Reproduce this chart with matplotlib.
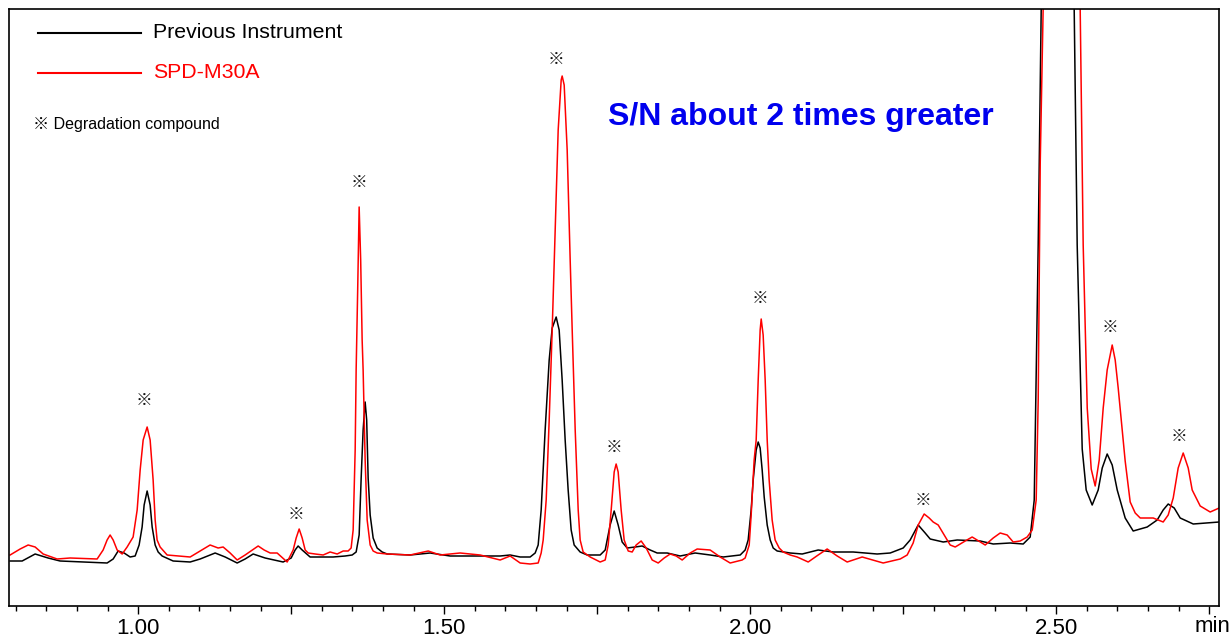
import matplotlib
matplotlib.use('Agg')
import matplotlib.pyplot as plt
import numpy as np

plt.rcParams['font.family'] = ['Liberation Sans', 'Noto Sans CJK JP', 'DejaVu Sans']

# previous instrument (black trace), time [min] / signal
t_prev = [0.7908, 0.8105, 0.8317, 0.8529, 0.8725, 0.9101, 0.9493, 0.9592, 0.9673, 0.9771,
          0.9869, 0.9951, 1.0016, 1.0065, 1.0098, 1.0147, 1.0196, 1.0229, 1.0278, 1.0327,
          1.0392, 1.0572, 1.0850, 1.1013, 1.1258, 1.1422, 1.1618, 1.1748, 1.1879, 1.2075,
          1.2369, 1.2500, 1.2565, 1.2614, 1.2680, 1.2810, 1.3186, 1.3382, 1.3497, 1.3562,
          1.3611, 1.3644, 1.3676, 1.3709, 1.3734, 1.3758, 1.3791, 1.3840, 1.3905, 1.3987,
          1.4069, 1.4444, 1.4771, 1.5098, 1.5425, 1.5915, 1.6078, 1.6242, 1.6405, 1.6487,
          1.6536, 1.6585, 1.6650, 1.6716, 1.6765, 1.6830, 1.6879, 1.6928, 1.6977, 1.7026,
          1.7075, 1.7124, 1.7222, 1.7337, 1.7549, 1.7631, 1.7712, 1.7778, 1.7843, 1.7908,
          1.7990, 1.8121, 1.8235, 1.8366, 1.8480, 1.8644, 1.8856, 1.9101, 1.9346, 1.9559,
          1.9837, 1.9918, 1.9967, 2.0016, 2.0049, 2.0098, 2.0131, 2.0163, 2.0196, 2.0229,
          2.0278, 2.0327, 2.0376, 2.0441, 2.0654, 2.0850, 2.1111, 2.1356, 2.1683, 2.2075,
          2.2288, 2.2500, 2.2614, 2.2745, 2.2859, 2.2941, 2.3154, 2.3382, 2.3758, 2.3971,
          2.4248, 2.4461, 2.4575, 2.4641, 2.4706, 2.4755, 2.4820, 2.5016, 2.5229, 2.5294,
          2.5343, 2.5425, 2.5490, 2.5588, 2.5686, 2.5752, 2.5833, 2.5915, 2.5997, 2.6127,
          2.6258, 2.6487, 2.6650, 2.6748, 2.6830, 2.6928, 2.7026, 2.7239, 2.7663]
y_prev = [45, 45, 52, 48, 45, 44, 43, 47, 55, 53,
          49, 50, 61, 79, 101, 115, 101, 79, 61, 54,
          50, 45, 44, 47, 53, 49, 43, 47, 52, 48,
          44, 48, 56, 60, 56, 49, 49, 50, 51, 54,
          71, 128, 176, 204, 186, 128, 91, 68, 58, 54,
          52, 51, 53, 50, 50, 50, 51, 49, 49, 53,
          61, 96, 176, 246, 278, 289, 276, 226, 166, 116,
          76, 61, 54, 51, 51, 56, 81, 95, 81, 64,
          58, 59, 60, 56, 53, 53, 50, 53, 51, 49,
          51, 56, 66, 96, 126, 156, 164, 158, 136, 109,
          81, 66, 58, 55, 53, 52, 56, 54, 54, 52,
          53, 58, 66, 81, 73, 67, 64, 66, 65, 62,
          63, 62, 69, 106, 361, 597, 900, 1300, 900, 597,
          361, 157, 116, 101, 116, 138, 152, 141, 116, 88,
          75, 79, 86, 96, 102, 98, 88, 82, 84]

# SPD-M30A (red trace)
t_m30a = [0.7908, 0.8072, 0.8203, 0.8317, 0.8448, 0.8676, 0.8889, 0.9330, 0.9428, 0.9493,
          0.9542, 0.9592, 0.9657, 0.9739, 0.9820, 0.9918, 0.9984, 1.0033, 1.0082, 1.0147,
          1.0196, 1.0245, 1.0278, 1.0310, 1.0359, 1.0474, 1.0850, 1.1013, 1.1176, 1.1307,
          1.1389, 1.1503, 1.1618, 1.1748, 1.1961, 1.2059, 1.2157, 1.2271, 1.2435, 1.2533,
          1.2582, 1.2631, 1.2680, 1.2729, 1.2778, 1.2892, 1.3023, 1.3137, 1.3252, 1.3350,
          1.3431, 1.3480, 1.3513, 1.3546, 1.3562, 1.3587, 1.3611, 1.3636, 1.3660, 1.3676,
          1.3709, 1.3742, 1.3791, 1.3840, 1.3905, 1.4069, 1.4444, 1.4739, 1.4935, 1.5261,
          1.5588, 1.5915, 1.6078, 1.6242, 1.6405, 1.6536, 1.6585, 1.6618, 1.6667, 1.6716,
          1.6765, 1.6814, 1.6863, 1.6912, 1.6928, 1.6961, 1.7010, 1.7059, 1.7092, 1.7141,
          1.7190, 1.7222, 1.7271, 1.7386, 1.7549, 1.7631, 1.7680, 1.7729, 1.7778, 1.7810,
          1.7843, 1.7892, 1.7941, 1.8007, 1.8072, 1.8137, 1.8219, 1.8301, 1.8399, 1.8497,
          1.8595, 1.8693, 1.8791, 1.8889, 1.9020, 1.9134, 1.9346, 1.9510, 1.9673, 1.9869,
          1.9918, 1.9984, 2.0016, 2.0065, 2.0098, 2.0131, 2.0163, 2.0180, 2.0212, 2.0245,
          2.0278, 2.0310, 2.0359, 2.0408, 2.0474, 2.0539, 2.0654, 2.0768, 2.0948, 2.1111,
          2.1258, 2.1422, 2.1585, 2.1830, 2.2173, 2.2451, 2.2565, 2.2663, 2.2745, 2.2843,
          2.2925, 2.2990, 2.3072, 2.3170, 2.3268, 2.3350, 2.3513, 2.3627, 2.3758, 2.3840,
          2.3971, 2.4085, 2.4199, 2.4297, 2.4412, 2.4526, 2.4608, 2.4673, 2.4706, 2.4739,
          2.4788, 2.4853, 2.5065, 2.5327, 2.5392, 2.5441, 2.5507, 2.5572, 2.5637, 2.5703,
          2.5768, 2.5833, 2.5915, 2.5964, 2.6013, 2.6078, 2.6127, 2.6209, 2.6291, 2.6373,
          2.6585, 2.6748, 2.6830, 2.6912, 2.6993, 2.7075, 2.7157, 2.7222, 2.7353, 2.7516,
          2.7663]
y_m30a = [51, 57, 61, 59, 52, 47, 48, 47, 56, 66,
          71, 66, 56, 52, 59, 69, 96, 136, 166, 179,
          166, 126, 86, 66, 59, 51, 49, 55, 61, 58,
          59, 53, 46, 51, 60, 56, 53, 53, 44, 56,
          68, 77, 68, 56, 53, 52, 51, 54, 52, 55,
          55, 58, 76, 156, 236, 316, 399, 346, 266, 236,
          146, 86, 61, 55, 53, 52, 51, 55, 51, 53,
          51, 46, 50, 43, 42, 43, 53, 66, 106, 186,
          276, 376, 476, 526, 530, 521, 456, 346, 276, 176,
          96, 66, 54, 49, 44, 46, 61, 96, 134, 142,
          134, 96, 66, 55, 54, 61, 65, 58, 46, 43,
          48, 52, 50, 46, 53, 57, 56, 49, 43, 46,
          48, 61, 91, 146, 166, 226, 276, 287, 271, 226,
          166, 126, 86, 66, 58, 54, 51, 49, 44, 51,
          57, 50, 44, 49, 43, 47, 51, 63, 81, 92,
          88, 84, 81, 71, 61, 59, 65, 69, 64, 61,
          68, 73, 71, 64, 65, 69, 76, 106, 206, 443,
          597, 950, 1400, 950, 597, 361, 198, 137, 120, 146,
          198, 236, 261, 246, 218, 176, 145, 104, 93, 88,
          88, 84, 91, 108, 138, 153, 138, 116, 100, 94,
          98]

# degradation compound marks
mark_t = [1.0098, 1.2582, 1.3611, 1.6830, 1.7778, 2.0163, 2.2827, 2.5882, 2.7010]
mark_y = [206, 92, 424, 547, 159, 308, 106, 279, 170]

tick_major = [1.00, 1.25, 1.50, 1.75, 2.00, 2.25, 2.50, 2.75]
tick_labels = ['1.00', '', '1.50', '', '2.00', '', '2.50', '']

fig = plt.figure(figsize=(12.32, 6.4), dpi=100)
ax = fig.add_axes([9 / 1232, 34 / 640, 1210 / 1232, 597 / 640])

ax.plot(t_prev, y_prev, color='black', lw=1.1)
ax.plot(t_m30a, y_m30a, color='red', lw=1.1)

for t, y in zip(mark_t, mark_y):
    ax.text(t, y, '※', ha='center', va='center', fontsize=12, color='#111111')

ax.set_xlim(0.789, 2.766)
ax.set_ylim(0, 597)
ax.set_yticks([])
ax.set_xticks(tick_major)
ax.set_xticklabels(tick_labels)
ax.set_xticks(np.arange(0.80, 2.77, 0.05), minor=True)
ax.tick_params(axis='x', which='major', direction='out', length=6, width=1, labelsize=16, pad=3)
ax.tick_params(axis='x', which='minor', direction='out', length=3.5, width=1)
for sp in ax.spines.values():
    sp.set_linewidth(1.2)

# legend drawn by hand like the original
ax.plot([0.024, 0.109], [0.960, 0.960], color='black', lw=1.5, transform=ax.transAxes)
ax.text(0.119, 0.960, 'Previous Instrument', fontsize=15.3, va='center', transform=ax.transAxes)
ax.plot([0.024, 0.109], [0.893, 0.893], color='red', lw=1.5, transform=ax.transAxes)
ax.text(0.119, 0.893, 'SPD-M30A', fontsize=15.3, color='red', va='center', transform=ax.transAxes)
ax.text(0.0198, 0.806, '※ Degradation compound', fontsize=11.5, va='center', transform=ax.transAxes)

ax.text(0.6545, 0.819, 'S/N about 2 times greater', fontsize=23, fontweight='bold',
        color='#0000ee', ha='center', va='center', transform=ax.transAxes)

fig.text(1195 / 1232, 1 - 627 / 640, 'min', fontsize=16, ha='left', va='center')

fig.savefig('out.png', dpi=100)
